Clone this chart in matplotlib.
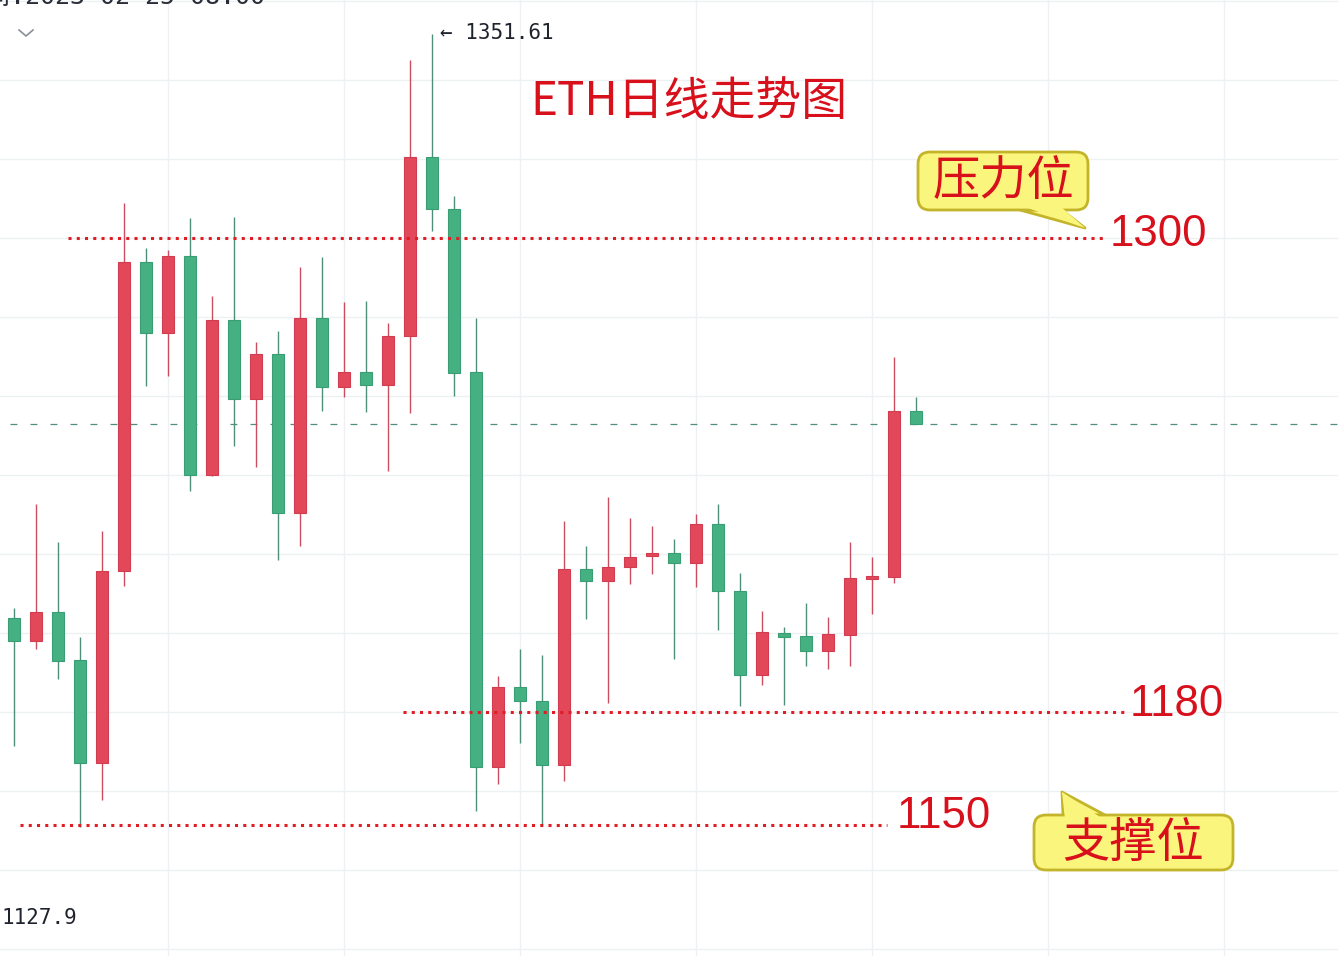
import numpy as np
import matplotlib
matplotlib.use("Agg")
import matplotlib.pyplot as plt
from matplotlib.patches import FancyBboxPatch, Polygon

plt.rcParams["font.family"] = ["Noto Sans CJK SC", "DejaVu Sans"]

# ── data (ETH daily candles) ──────────────────────────────────────────────────
opens = [1203.8, 1198.0, 1205.3, 1193.2, 1167.1, 1215.7, 1293.9, 1275.9, 1295.4, 1240.0,
         1279.2, 1259.2, 1270.6, 1230.4, 1279.7, 1262.3, 1266.1, 1262.8, 1275.2, 1320.5,
         1307.3, 1266.1, 1166.1, 1186.3, 1182.8, 1166.6, 1216.2, 1213.2, 1216.7, 1219.5,
         1220.3, 1217.7, 1227.6, 1210.6, 1189.4, 1200.0, 1199.2, 1195.4, 1199.5, 1213.7,
         1214.2, 1256.2]
highs = [1206.3, 1232.7, 1223.0, 1199.0, 1225.8, 1308.9, 1297.5, 1297.0, 1305.1, 1285.3,
         1305.3, 1273.7, 1276.5, 1292.7, 1295.2, 1283.8, 1284.1, 1278.5, 1345.1, 1351.61,
         1310.6, 1279.7, 1189.1, 1195.9, 1194.4, 1228.4, 1222.0, 1234.4, 1229.1, 1227.1,
         1223.8, 1230.1, 1232.7, 1215.2, 1205.6, 1201.5, 1207.6, 1204.1, 1223.0, 1219.2,
         1269.9, 1259.7]
lows = [1171.4, 1195.9, 1188.4, 1150.9, 1157.7, 1211.9, 1262.5, 1265.1, 1235.9, 1239.7,
        1247.3, 1242.0, 1218.5, 1222.0, 1256.2, 1259.7, 1256.0, 1241.0, 1255.7, 1301.8,
        1260.0, 1154.9, 1161.8, 1172.2, 1151.1, 1162.5, 1203.5, 1182.3, 1212.4, 1214.9,
        1193.4, 1211.6, 1200.8, 1181.5, 1186.8, 1181.8, 1191.6, 1190.9, 1191.6, 1204.8,
        1212.7, 1252.9]
closes = [1198.0, 1205.3, 1192.9, 1167.1, 1215.7, 1293.9, 1275.9, 1295.4, 1240.0, 1279.2,
          1259.2, 1270.6, 1230.4, 1279.7, 1262.3, 1266.1, 1262.8, 1275.2, 1320.5, 1307.3,
          1265.8, 1166.1, 1186.3, 1182.8, 1166.6, 1216.2, 1213.2, 1216.7, 1219.2, 1220.3,
          1217.7, 1227.6, 1210.6, 1189.4, 1200.3, 1199.0, 1195.4, 1199.7, 1213.9, 1214.2,
          1256.2, 1252.9]

LEVELS = [1300, 1180, 1150]
LEVEL_DRAWN = [1300.0, 1180.0, 1151.3]                     # where the hand-drawn lines sit
LEVEL_SPANS = [(2.45, 49.6), (17.7, 50.5), (0.27, 39.7)]   # candle-index extent of each line
HIGH_LABEL = "1351.61"
LOW_LABEL = "1127.9"
LAST_PRICE = closes[-1]
TITLE = "ETH日线走势图"
HEADER = "时间:2023-02-25 08:00"

UP = "#E2475A"
DOWN = "#45B082"
UP_WICK = "#CC4D60"
DOWN_WICK = "#4E8F7C"
LEVEL_RED = "#E01C24"
TEXT_RED = "#D8101C"

W, H = 1338, 956
fig = plt.figure(figsize=(W / 100, H / 100), dpi=100)
ax = fig.add_axes([0, 0, 1, 1])
ax.set_xlim(-0.636, 60.18)
ax.set_ylim(1118.23, 1360.25)
ax.axis("off")

# grid
for p in np.arange(1120, 1361, 20):
    ax.axhline(p, color="#EEF1F4", lw=1.0, zorder=0)
for i in range(7, 61, 8):
    ax.axvline(i, color="#EEF1F4", lw=1.0, zorder=0)

# candles
x = np.arange(len(opens))
o, h, l, c = map(np.array, (opens, highs, lows, closes))
up = c >= o
ax.vlines(x[up], l[up], h[up], color=UP_WICK, lw=1.0, zorder=2)
ax.vlines(x[~up], l[~up], h[~up], color=DOWN_WICK, lw=1.0, zorder=2)
bottom = np.minimum(o, c)
height = np.maximum(np.abs(c - o), 0.8)
ax.bar(x[up], height[up], bottom=bottom[up], width=0.58, color=UP,
       edgecolor="#D03C50", lw=0.8, zorder=3)
ax.bar(x[~up], height[~up], bottom=bottom[~up], width=0.58, color=DOWN,
       edgecolor="#3A9E74", lw=0.8, zorder=3)

# last price line
ax.plot([-0.18, 61], [LAST_PRICE, LAST_PRICE], color="#4F8E80", lw=0.9,
        linestyle=(0, (5.5, 10.5)), zorder=1)

# support / resistance levels
label_pos = [(49.8, 1300.8), (50.7, 1181.8), (40.1, 1153.6)]
for lvl, drawn, (x0, x1), (tx, ty) in zip(LEVELS, LEVEL_DRAWN, LEVEL_SPANS, label_pos):
    ax.plot([x0, x1], [drawn, drawn], color=LEVEL_RED, lw=2.2,
            linestyle=(0, (1, 1.7)), zorder=4)
    ax.text(tx, ty, str(lvl), color=TEXT_RED, fontsize=31.5, ha="left", va="center",
            family=["Liberation Sans"], zorder=5)

# high / low labels
hi_idx = int(np.argmax(h))
ax.text(hi_idx + 0.35, h[hi_idx] + 0.4, "\u2190 " + HIGH_LABEL, fontsize=15,
        family=["DejaVu Sans Mono"], color="#1E222D", ha="left", va="center")
ax.text(-0.55, 1127.9, LOW_LABEL, fontsize=15, family=["DejaVu Sans Mono"],
        color="#1E222D", ha="left", va="center")

# title
ax.text(30.7, 1334.4, TITLE, color=TEXT_RED, fontsize=33, ha="center", va="center")

# ── overlay in pixel coordinates for the callouts / header ───────────────────
ov = fig.add_axes([0, 0, 1, 1])
ov.set_xlim(0, W)
ov.set_ylim(H, 0)
ov.axis("off")
ov.patch.set_alpha(0)

# header is cropped at the top edge, as in the original screenshot
ov.text(-40, -3, HEADER, fontsize=18, family=["DejaVu Sans Mono", "Noto Sans CJK SC"],
        color="#2A2E39", ha="left", va="center")
ov.plot([19, 26, 33], [30, 36, 30], color="#8A8F99", lw=1.2)


def callout(box, tail, text):
    x0, y0, x1, y1 = box
    fill, edge = "#FAF57C", "#C4B42A"
    ov.add_patch(Polygon(tail, closed=True, facecolor=fill, edgecolor=edge,
                         lw=2, zorder=6, joinstyle="round"))
    ov.add_patch(FancyBboxPatch((x0, y0), x1 - x0, y1 - y0,
                                boxstyle="round,pad=0,rounding_size=12",
                                facecolor=fill, edgecolor=edge, lw=2, zorder=7))
    (bx0, by), (bx1, _), tip = tail
    shift = 4 if tip[1] > by else -4
    ov.add_patch(Polygon([(bx0 + 2, by - shift), (bx1 - 2, by - shift), tip],
                         closed=True, facecolor=fill, edgecolor="none", zorder=8))
    ov.text((x0 + x1) / 2, (y0 + y1) / 2 + 1, text, color=TEXT_RED, fontsize=34,
            ha="center", va="center", zorder=9)


callout((918, 152, 1088, 210), [(1020, 210), (1062, 210), (1085, 228)], "压力位")
callout((1034, 815, 1233, 870), [(1063, 815), (1105, 815), (1062, 792)], "支撑位")

fig.savefig("out.png", dpi=100)
